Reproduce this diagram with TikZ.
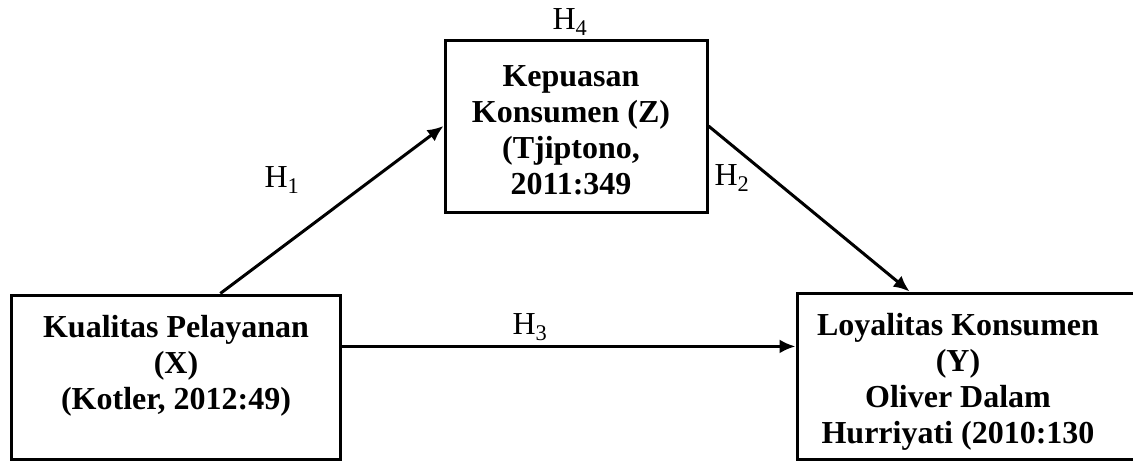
\documentclass[tikz,border=0pt]{standalone}
\usepackage{fontspec}
\setmainfont{Liberation Serif}
\usetikzlibrary{arrows.meta,calc}
\begin{document}
\begin{tikzpicture}[x=1pt,y=-1pt,
  box/.style={draw,line width=3pt,rectangle,inner sep=0pt},
  lbl/.style={font=\fontsize{32}{36}\selectfont\bfseries,align=center,inner sep=0pt},
  hyp/.style={font=\fontsize{32}{36}\selectfont,inner sep=0pt},
  conn/.style={line width=3pt,-{Latex[length=16pt,width=14pt]}}]
\useasboundingbox (0,0) rectangle (1133,461);
\clip (0,0) rectangle (1133,461);
% boxes
\node[box,minimum width=329pt,minimum height=164.5pt] (X) at (175.5,377.25) {};
\node[box,minimum width=348pt,minimum height=166.5pt] (Y) at (971,376.25) {};
\node[box,minimum width=262pt,minimum height=172pt] (Z) at (576,126) {};
% box texts
\node[lbl] (Xt) at (176,365.5) {Kualitas Pelayanan\\(X)\\(Kotler, 2012:49)};
\node[lbl] (Yt) at (958,382) {Loyalitas Konsumen\\(Y)\\Oliver Dalam\\Hurriyati (2010:130};
\node[lbl] (Zt) at (571,130) {Kepuasan\\Konsumen (Z)\\(Tjiptono,\\2011:349};
% connectors
\coordinate (h1s) at ($(X.north west)!0.635!(X.north east)$);
\coordinate (h2e) at ($(Y.north west)!0.325!(Y.north east)$);
\coordinate (h3s) at ($(X.north east)!0.316!(X.south east)$);
\draw[conn] (h1s) -- (Z.west);
\draw[conn] (Z.east) -- (h2e);
\draw[conn] (h3s) -- (h3s -| Y.west);
% hypothesis labels
\node[hyp] (H1) at (282,180) {H\textsubscript{1}};
\node[hyp] (H2) at (732,178) {H\textsubscript{2}};
\node[hyp] (H3) at (530,327) {H\textsubscript{3}};
\node[hyp] (H4) at (570,22) {H\textsubscript{4}};
\end{tikzpicture}
\end{document}
